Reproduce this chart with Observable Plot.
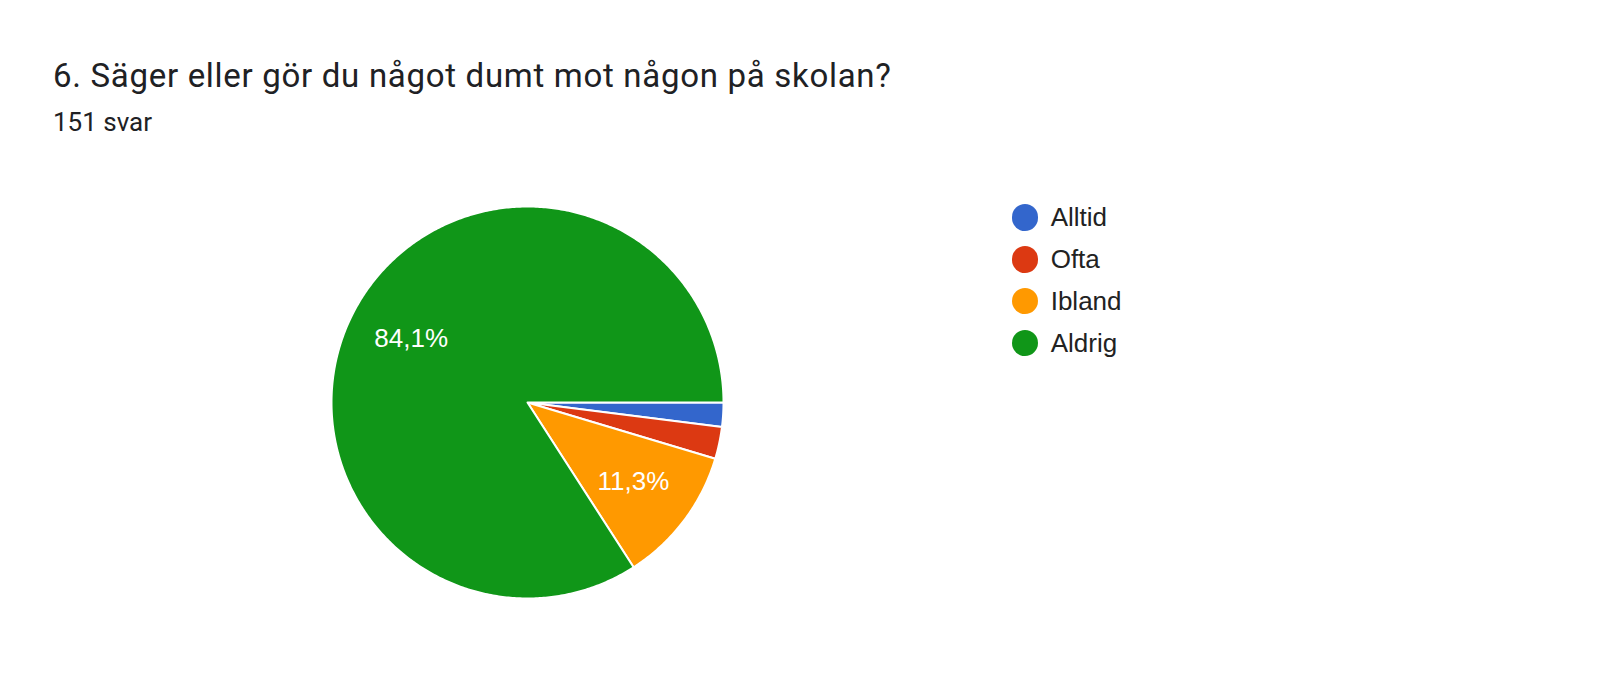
<!DOCTYPE html>
<html>
<head>
<meta charset="utf-8">
<script src="https://cdn.jsdelivr.net/npm/d3@7"></script>
<script src="https://cdn.jsdelivr.net/npm/@observablehq/plot@0.6"></script>
<style>
  html, body { margin: 0; padding: 0; background: #fff; }
  #wrap { position: relative; width: 1600px; height: 673px; overflow: hidden; }
  #title { position: absolute; left: 53px; top: 55.5px; font-family: Roboto, sans-serif; font-size: 33px; letter-spacing: 0.7px; color: #202124; white-space: nowrap; line-height: normal; }
  #sub { position: absolute; left: 53px; top: 107px; font-family: Roboto, sans-serif; font-size: 26px; color: #202124; line-height: normal; }
  #chart { position: absolute; left: 0; top: 0; }
  #legend { position: absolute; left: 1011.7px; top: 196.4px; font-family: "Liberation Sans", Arial, sans-serif; font-size: 26px; color: #222; }
  .item { display: flex; align-items: center; height: 41.9px; }
  .sw { width: 26.6px; height: 26.6px; border-radius: 50%; margin-right: 12.4px; flex: none; }
</style>
</head>
<body>
<div id="wrap">
  <div id="title">6. Säger eller gör du något dumt mot någon på skolan?</div>
  <div id="sub">151 svar</div>
  <div id="chart"></div>
  <div id="legend"></div>
</div>
<script>
const categories = ["Alltid", "Ofta", "Ibland", "Aldrig"];
const counts = [3, 4, 17, 127];
const labels = ["", "", "11,3%", "84,1%"];
const colors = ["#3366cc", "#dc3912", "#ff9900", "#109618"];

const total = d3.sum(counts);
// slice outlines in unit-circle data coordinates, derived from the counts
const pts = [];
const labelRows = [];
let acc = 0;
categories.forEach((c, i) => {
  const a0 = acc / total * 2 * Math.PI;
  acc += counts[i];
  const a1 = acc / total * 2 * Math.PI;
  pts.push({cat: c, x: 0, y: 0});
  const n = Math.max(2, Math.ceil((a1 - a0) / 0.01));
  for (let k = 0; k <= n; k++) {
    const a = a0 + (a1 - a0) * k / n;
    pts.push({cat: c, x: Math.cos(a), y: Math.sin(a)});
  }
  if (labels[i]) {
    const am = (a0 + a1) / 2;
    labelRows.push({cat: c, x: 0.676 * Math.cos(am), y: 0.676 * Math.sin(am), label: labels[i]});
  }
});

const chart = Plot.plot({
  width: 1600,
  height: 673,
  x: {domain: [-1, 1], range: [331, 723], axis: null},
  y: {domain: [-1, 1], range: [206, 598], axis: null},
  color: {domain: categories, range: colors},
  marks: [
    Plot.line(pts, {x: "x", y: "y", z: "cat", fill: "cat", stroke: "white", strokeWidth: 2, curve: "linear-closed", strokeLinejoin: "round"}),
    Plot.text(labelRows, {x: "x", y: "y", text: "label", fill: "white", fontSize: 26, fontFamily: "'Liberation Sans', Arial, sans-serif"})
  ]
});
document.getElementById("chart").appendChild(chart);

const leg = document.getElementById("legend");
categories.forEach((c, i) => {
  const it = document.createElement("div");
  it.className = "item";
  it.innerHTML = `<div class="sw" style="background:${colors[i]}"></div><span>${c}</span>`;
  leg.appendChild(it);
});
</script>
</body>
</html>
